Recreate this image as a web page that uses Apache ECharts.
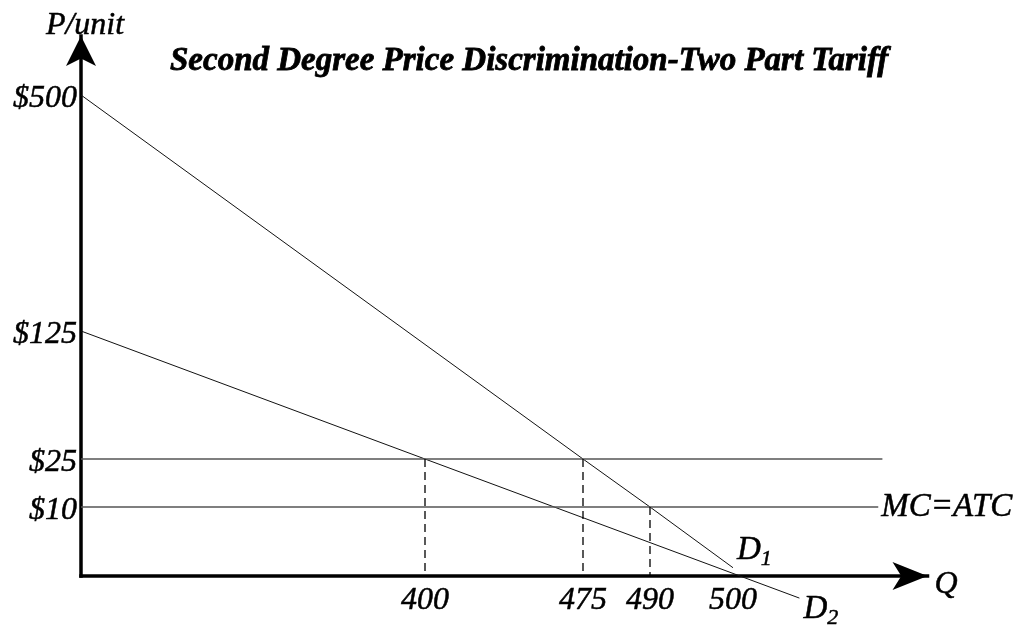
<!DOCTYPE html>
<html>
<head>
<meta charset="utf-8">
<script src="https://cdn.jsdelivr.net/npm/echarts@6/dist/echarts.min.js"></script>
<style>
html,body{margin:0;padding:0;background:#fff;}
#chart{width:1020px;height:628px;}
</style>
</head>
<body>
<div id="chart"></div>
<script>
// ---- data (economic units) ----
const quantityTicks = [400, 475, 490, 500];
const quantityLabels = ['400', '475', '490', '500'];
const priceTicks = [500, 125, 25, 10];
const priceLabels = ['$500', '$125', '$25', '$10'];
const demand1 = [[0, 500], [475, 25], [490, 10], [500, 1.2]];
const demand2 = [[0, 125], [400, 25], [508, -3.2]];
const tariffLine = [[0, 25], [518, 25]];
const mcLine = [[0, 10], [517.5, 10]];
const dropLines = [[400, 25], [475, 25], [490, 10]];

// ---- schematic (not-to-scale) axis mapping, as drawn in the diagram ----
const qScaleVals = [0, 400, 475, 490, 500];
const qScaleUnits = [0, 344, 502, 569, 652];
const pScaleVals = [0, 10, 25, 125, 500];
const pScaleUnits = [0, 69, 117, 245, 481];

function makeScale(vals, units) {
  return function (v) {
    let i = 0;
    while (i < vals.length - 2 && v > vals[i + 1]) i++;
    const t = (v - vals[i]) / (vals[i + 1] - vals[i]);
    return units[i] + t * (units[i + 1] - units[i]);
  };
}
const sq = makeScale(qScaleVals, qScaleUnits);
const sp = makeScale(pScaleVals, pScaleUnits);
const toXY = pts => pts.map(([q, p]) => [sq(q), sp(p)]);

const FONT = "'Liberation Serif', 'Times New Roman', serif";
const qTickPos = quantityTicks.map(sq);
const pTickPos = priceTicks.map(sp);
const txt = (size, extra) => Object.assign({
  fontFamily: FONT, fontStyle: 'italic', fontSize: size, color: '#000',
  textBorderColor: '#000', textBorderWidth: 0.5
}, extra || {});

function lineSeries(pts, style, extra) {
  return Object.assign({
    type: 'line', data: toXY(pts), symbol: 'none', silent: true,
    clip: false, animation: false, lineStyle: style
  }, extra || {});
}

const series = [
  lineSeries(demand1, { color: '#111', width: 1 }, {
    endLabel: {
      show: true, distance: 4, offset: [0, -15.75],
      formatter: '{a|D}{b|1}',
      rich: {
        a: txt(33, { lineHeight: 33, verticalAlign: 'top' }),
        b: txt(22, { lineHeight: 36.5, verticalAlign: 'bottom' })
      }
    }
  }),
  lineSeries(demand2, { color: '#111', width: 1 }, {
    endLabel: {
      show: true, distance: 4, offset: [0, 13.25],
      formatter: '{a|D}{b|2}',
      rich: {
        a: txt(33, { lineHeight: 33, verticalAlign: 'top' }),
        b: txt(22, { lineHeight: 36.5, verticalAlign: 'bottom' })
      }
    }
  }),
  lineSeries(tariffLine, { color: '#555', width: 1.5 }),
  lineSeries(mcLine, { color: '#555', width: 1.5 }, {
    endLabel: Object.assign({ show: true, distance: 3, formatter: 'MC=ATC' }, txt(33))
  })
];
dropLines.forEach(([q, p]) => {
  series.push(lineSeries([[q, p], [q, 0]], { color: '#000', width: 1.3, type: [8, 5] }));
});

const chart = echarts.init(document.getElementById('chart'), null, { renderer: 'canvas' });
chart.setOption({
  backgroundColor: '#fff',
  animation: false,
  title: {
    text: 'Second Degree Price Discrimination-Two Part Tariff',
    left: 165, top: 40,
    textStyle: { fontFamily: FONT, fontStyle: 'italic', fontWeight: 'bold', fontSize: 33, color: '#000',
      textBorderColor: '#000', textBorderWidth: 0.8 }
  },
  grid: { left: 81, right: 92.5, top: 36, bottom: 52, containLabel: false },
  xAxis: {
    type: 'value', min: 0, max: 846.5,
    splitLine: { show: false }, axisTick: { show: false },
    axisLine: {
      show: true, onZero: false, symbol: ['none', 'arrow'], symbolSize: [21, 35],
      lineStyle: { color: '#000', width: 3.5, cap: 'square' }
    },
    axisLabel: Object.assign({
      customValues: qTickPos, margin: 9,
      formatter: v => { const i = qTickPos.findIndex(t => Math.abs(t - v) < 0.01); return i >= 0 ? quantityLabels[i] : ''; }
    }, txt(32)),
    name: '{q|Q}', nameLocation: 'end', nameGap: 7,
    nameTextStyle: { rich: { q: txt(32, { lineHeight: 50, verticalAlign: 'bottom' }) } }
  },
  yAxis: {
    type: 'value', min: 0, max: 540,
    splitLine: { show: false }, axisTick: { show: false },
    axisLine: {
      show: true, onZero: false, symbol: ['none', 'arrow'], symbolSize: [22.5, 30],
      lineStyle: { color: '#000', width: 3.5, cap: 'square' }
    },
    axisLabel: {
      customValues: pTickPos, margin: 4,
      formatter: v => { const i = pTickPos.findIndex(t => Math.abs(t - v) < 0.01); return i >= 0 ? '{p|' + priceLabels[i] + '}' : ''; },
      rich: { p: txt(32, { lineHeight: 40, verticalAlign: 'bottom' }) }
    },
    name: 'P/unit', nameLocation: 'end', nameGap: -6,
    nameTextStyle: txt(32, { padding: [0, 0, 0, 8] })
  },
  series: series
});
</script>
</body>
</html>
